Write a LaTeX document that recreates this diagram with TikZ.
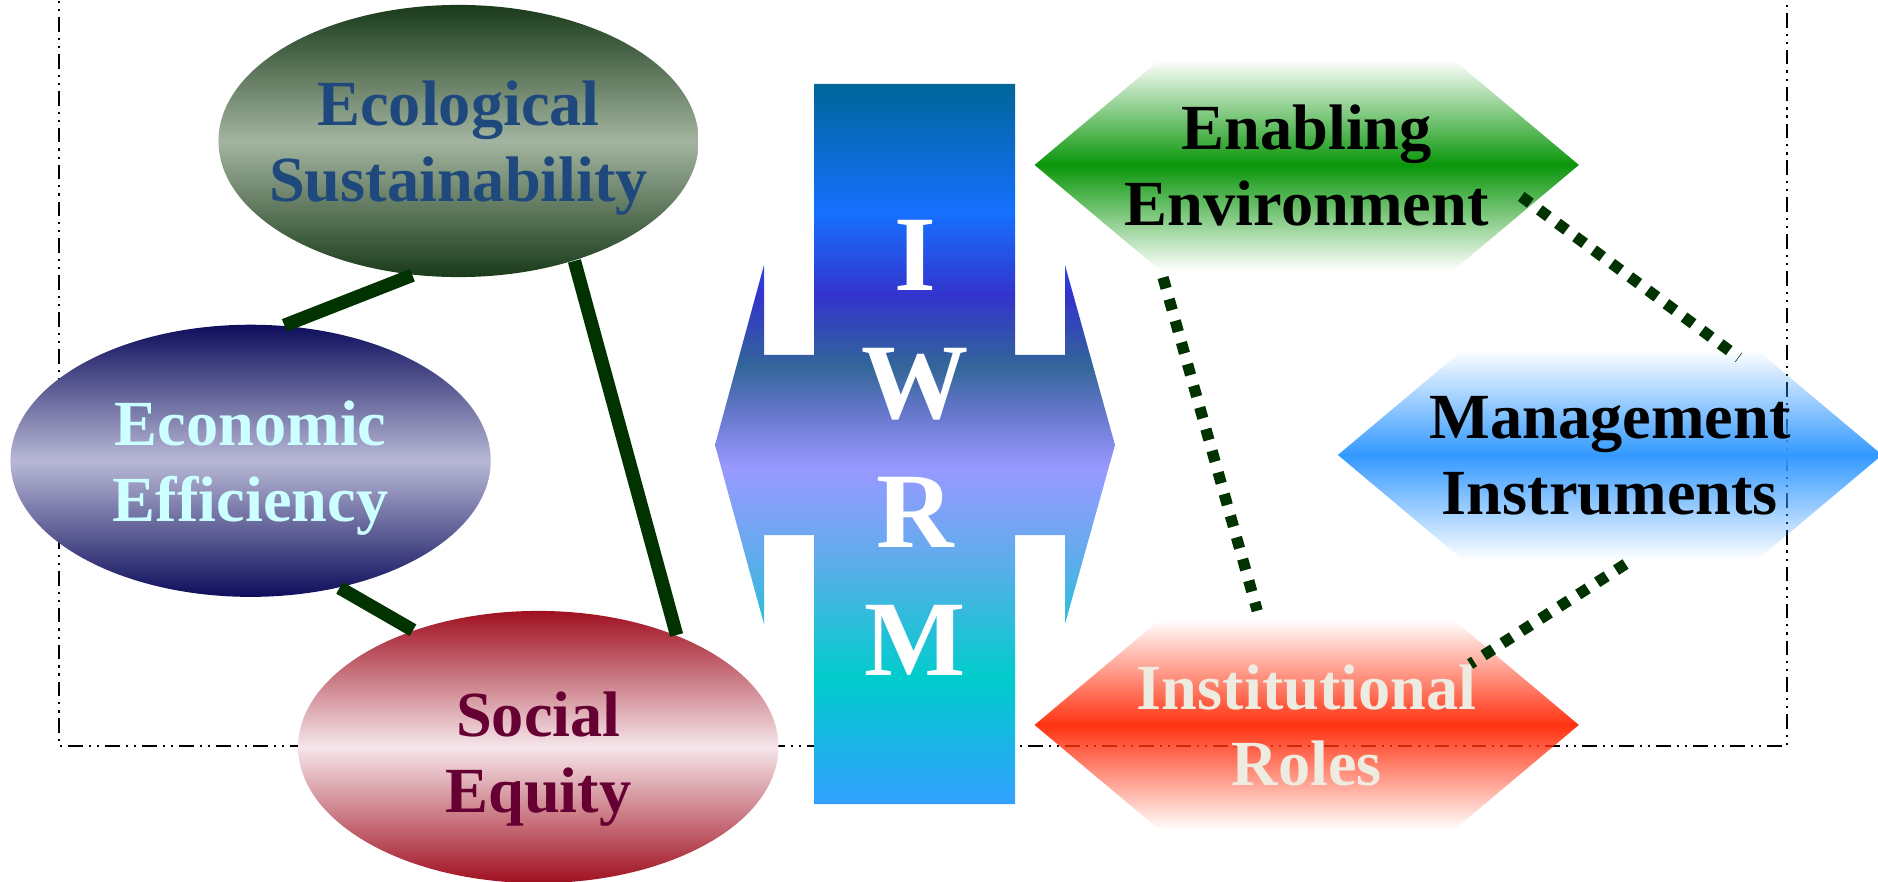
\documentclass[tikz,border=0pt]{standalone}
\usepackage{fontspec}
\setmainfont{Liberation Serif}
\usetikzlibrary{shapes.geometric, shapes.symbols, fadings}

\definecolor{ecodark}{HTML}{1A3A1A}
\definecolor{ecolight}{HTML}{A3B5A0}
\definecolor{ecotext}{HTML}{1F497D}
\definecolor{econdark}{HTML}{0D0D5C}
\definecolor{econlight}{HTML}{B8B8D6}
\definecolor{econtext}{HTML}{CCFFFF}
\definecolor{socdark}{HTML}{A01020}
\definecolor{soclight}{HTML}{F5E6EA}
\definecolor{soctext}{HTML}{660033}
\definecolor{enabgreen}{HTML}{0A960A}
\definecolor{mgmtblue}{HTML}{3399FF}
\definecolor{instred}{HTML}{FF3311}
\definecolor{insttext}{HTML}{EEEBE0}
\definecolor{linkgreen}{HTML}{003300}
\definecolor{iw1}{HTML}{006699}
\definecolor{iw2}{HTML}{1670FF}
\definecolor{iw3}{HTML}{3333CC}
\definecolor{iw4}{HTML}{336699}
\definecolor{iw5}{HTML}{6677CC}
\definecolor{iw6}{HTML}{9999FF}
\definecolor{iw7}{HTML}{66AAEE}
\definecolor{iw8}{HTML}{00CCCC}
\definecolor{iw9}{HTML}{33A0FF}

\pgfdeclareverticalshading{iwrmshade}{100bp}{color(0bp)=(iw9); color(25bp)=(iw9);
  color(33.75bp)=(iw8); color(42.7bp)=(iw7); color(48.4bp)=(iw6); color(52.15bp)=(iw5);
  color(55.35bp)=(iw4); color(60.35bp)=(iw3); color(66.05bp)=(iw2); color(75bp)=(iw1);
  color(100bp)=(iw1)}

\tikzfading[name=midfade, top color=transparent!100, bottom color=transparent!100,
  middle color=transparent!0]

\tikzset{
  goal/.style={ellipse, minimum width=4.8cm, minimum height=2.72cm, inner sep=0pt,
    inner xsep=-0.25cm, align=center, text depth=0pt,
    font=\bfseries\fontsize{18.3}{21.6}\selectfont},
  pillar/.style={signal, signal to=west and east, signal pointer angle=80,
    minimum width=5.44cm, minimum height=2.1cm, inner sep=0pt, path fading=midfade},
  pillartext/.style={align=center, inner sep=0pt, text depth=0pt,
    font=\bfseries\fontsize{18.3}{21.6}\selectfont},
  letter/.style={white, anchor=base, font=\bfseries\fontsize{30.5}{36}\selectfont},
  tie/.style={linkgreen, line width=3.8pt},
  dotlink/.style={linkgreen, line width=3.2pt, dash pattern=on 3.2pt off 3.2pt}
}

\begin{document}
\begin{tikzpicture}[x=0.01cm, y=-0.01cm]
    \useasboundingbox (0,0) rectangle (1878,882);
    % frame
    \draw[line width=0.6pt, dash pattern=on 4.2pt off 1.7pt on 0.6pt off 1.7pt on 0.6pt off 1.7pt]
        (59,-20) -- (59,746) -- (1787,746) -- (1787,-20);

    % IWRM cross
    \shade[shading=iwrmshade] (814,84) -- (1015,84) -- (1015,355) -- (1065,355) -- (1065,265)
        -- (1115,445) -- (1065,624) -- (1065,535) -- (1015,535) -- (1015,804) -- (814,804)
        -- (814,535) -- (764,535) -- (764,624) -- (715,445) -- (764,265) -- (764,355)
        -- (814,355) -- cycle;
    \foreach \l [count=\i from 0] in {I,W,R,M}
        \node[letter] (iwrm\l) at (915,{291+128*\i}) {\l};

    % three goals
    \node[goal, top color=ecodark, bottom color=ecodark, middle color=ecolight, text=ecotext]
        (eco) at (458.6,141) {Ecological\\Sustainability};
    \node[goal, top color=econdark, bottom color=econdark, middle color=econlight, text=econtext]
        (econ) at (250.6,460.8) {Economic\\Efficiency};
    \node[goal, top color=socdark, bottom color=socdark, middle color=soclight, text=soctext,
        text height=37pt] (soc) at (538.3,747) {Social\\Equity};

    % three pillars
    \node[pillar, fill=enabgreen] (enab) at (1306.7,165) {};
    \node[pillar, fill=mgmtblue] (mgmt) at (1610,455) {};
    \node[pillar, fill=instred] (inst) at (1306.7,725) {};
    \node[pillartext] (enabtext) at (enab) {Enabling\\Environment};
    \node[pillartext] (mgmttext) at (mgmt) {Management\\Instruments};
    \node[pillartext, text=insttext] (insttext) at (inst) {Institutional\\Roles};

    % links
    \draw[tie] (eco.-109.6) -- (econ.76.5);
    \draw[tie] (econ.-55) -- (soc.137.1);
    \draw[tie] (eco.-46.3) -- (soc.39.2);
    \draw[dotlink, shorten <=0.07cm, shorten >=0.09cm] (enab.-144.4) -- (inst.114.2);
    \draw[dotlink, shorten <=-0.14cm, shorten >=-0.14cm] (enab.-10.7) -- (mgmt.42.6);
    \draw[dotlink, shorten <=0.06cm, shorten >=-0.25cm] (mgmt.-79.3) -- (inst.22.5);
\end{tikzpicture}
\end{document}
